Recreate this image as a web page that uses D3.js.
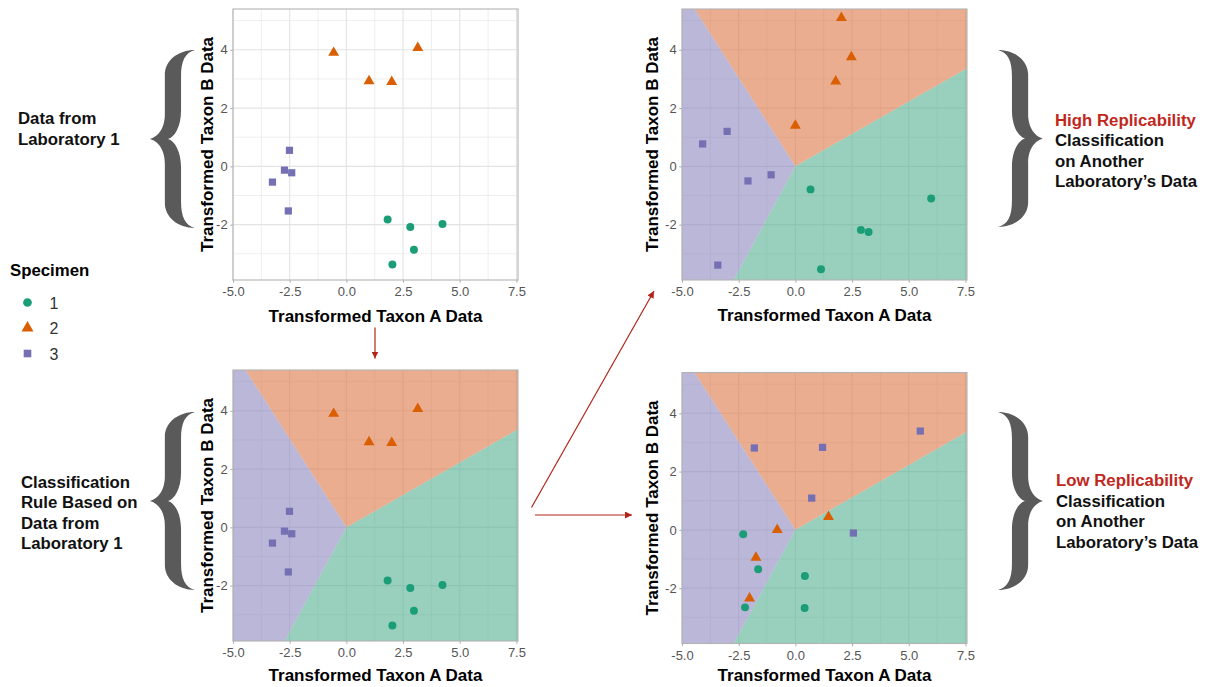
<!DOCTYPE html>
<html><head><meta charset="utf-8">
<script src="https://cdn.jsdelivr.net/npm/d3@7"></script>
<style>
html,body{margin:0;padding:0;background:#fff;}
svg{display:block;font-family:"Liberation Sans",Arial,Helvetica,sans-serif;}
</style></head><body>
<svg id="chart" width="1210" height="687"></svg>
<script>
// ---------- data ----------
const specimens = ["1", "2", "3"];
const specimenColors = ["#1B9E77", "#D95F02", "#7570B3"];
const regionColors = ["#53AF91", "#DC7644", "#8C87BE"];
const specimenShapes = ["circle", "triangle", "square"];

const xTickValues = [-5, -2.5, 0, 2.5, 5, 7.5];
const yTickValues = [-2, 0, 2, 4];
const xMinorTicks = [-3.75, -1.25, 1.25, 3.75, 6.25];
const yMinorTicks = [-3, -1, 1, 3, 5];
const xDomain = [-5, 7.57];
const yDomain = [-3.9, 5.4];

// classification rule regions (data units)
const regionSpecimen1 = [[0, 0], [-2.72, -3.9], [7.57, -3.9], [7.57, 3.37]];
const regionSpecimen2 = [[0, 0], [-4.45, 5.4], [7.57, 5.4], [7.57, 3.37]];
const regionSpecimen3 = [[0, 0], [-4.45, 5.4], [-5, 5.4], [-5, -3.9], [-2.72, -3.9]];

// Laboratory 1
const lab1Spec1X = [1.82, 2.82, 4.24, 2.98, 2.03];
const lab1Spec1Y = [-1.82, -2.08, -1.98, -2.86, -3.37];
const lab1Spec2X = [-0.56, 3.15, 1.0, 2.0];
const lab1Spec2Y = [3.9, 4.07, 2.93, 2.9];
const lab1Spec3X = [-2.51, -2.73, -2.41, -3.26, -2.56];
const lab1Spec3Y = [0.55, -0.13, -0.22, -0.54, -1.53];

// Another laboratory, high replicability
const highSpec1X = [0.67, 5.99, 2.89, 3.23, 1.13];
const highSpec1Y = [-0.79, -1.1, -2.18, -2.25, -3.53];
const highSpec2X = [2.03, 2.47, 1.78, 0.0];
const highSpec2Y = [5.1, 3.75, 2.92, 1.4];
const highSpec3X = [-4.09, -3.01, -2.09, -1.07, -3.42];
const highSpec3Y = [0.77, 1.2, -0.5, -0.29, -3.39];

// Another laboratory, low replicability
const lowSpec1X = [-2.3, -1.64, 0.42, -2.22, 0.41];
const lowSpec1Y = [-0.15, -1.35, -1.58, -2.66, -2.68];
const lowSpec2X = [-0.8, 1.46, -1.74, -2.02];
const lowSpec2Y = [0.0, 0.45, -0.95, -2.35];
const lowSpec3X = [-1.81, 1.2, 5.51, 0.72, 2.56];
const lowSpec3Y = [2.81, 2.83, 3.39, 1.09, -0.11];

const xTitle = "Transformed Taxon A Data";
const yTitle = "Transformed Taxon B Data";

// ---------- helpers ----------
function toPoints(xs, ys, s) { return xs.map((x, i) => ({x: x, y: ys[i], s: s})); }
const lab1 = [].concat(toPoints(lab1Spec1X, lab1Spec1Y, 0), toPoints(lab1Spec2X, lab1Spec2Y, 1), toPoints(lab1Spec3X, lab1Spec3Y, 2));
const high = [].concat(toPoints(highSpec1X, highSpec1Y, 0), toPoints(highSpec2X, highSpec2Y, 1), toPoints(highSpec3X, highSpec3Y, 2));
const low = [].concat(toPoints(lowSpec1X, lowSpec1Y, 0), toPoints(lowSpec2X, lowSpec2Y, 1), toPoints(lowSpec3X, lowSpec3Y, 2));
const regions = [regionSpecimen1, regionSpecimen2, regionSpecimen3];

const symbolTypes = {circle: d3.symbolCircle, triangle: d3.symbolTriangle, square: d3.symbolSquare};
const symbolSizes = {circle: 50, triangle: 52, square: 52};
const legendSizes = {circle: 60, triangle: 62, square: 58};

const svg = d3.select("#chart");
const GRID = "#E3E3E3", BORDER = "#B3B3B3", TICKTXT = "#555555";

function drawPanel(p) {
  const g = svg.append("g").attr("transform", `translate(${p.x},${p.y})`);
  const xs = d3.scaleLinear().domain(xDomain).range([0, p.w]);
  const ys = d3.scaleLinear().domain(yDomain).range([p.h, 0]);

  g.append("rect").attr("width", p.w).attr("height", p.h).attr("fill", "#fff");
  // minor grid
  g.selectAll(".mx").data(xMinorTicks).join("line")
    .attr("x1", d => xs(d)).attr("x2", d => xs(d)).attr("y1", 0).attr("y2", p.h)
    .attr("stroke", GRID).attr("stroke-width", 0.6);
  g.selectAll(".my").data(yMinorTicks).join("line")
    .attr("y1", d => ys(d)).attr("y2", d => ys(d)).attr("x1", 0).attr("x2", p.w)
    .attr("stroke", GRID).attr("stroke-width", 0.6);
  // major grid
  g.selectAll(".gx").data(xTickValues).join("line")
    .attr("x1", d => xs(d)).attr("x2", d => xs(d)).attr("y1", 0).attr("y2", p.h)
    .attr("stroke", GRID).attr("stroke-width", 1.1);
  g.selectAll(".gy").data(yTickValues).join("line")
    .attr("y1", d => ys(d)).attr("y2", d => ys(d)).attr("x1", 0).attr("x2", p.w)
    .attr("stroke", GRID).attr("stroke-width", 1.1);

  if (p.regions) {
    const line = d3.line().x(d => xs(d[0])).y(d => ys(d[1]));
    g.selectAll(".reg").data(regions).join("path")
      .attr("d", d => line(d) + "Z")
      .attr("fill", (d, i) => regionColors[i])
      .attr("fill-opacity", 0.6);
  }

  g.selectAll(".pt").data(p.data).join("path")
    .attr("transform", d => `translate(${xs(d.x)},${ys(d.y)})`)
    .attr("d", d => d3.symbol().type(symbolTypes[specimenShapes[d.s]]).size(symbolSizes[specimenShapes[d.s]])())
    .attr("fill", d => specimenColors[d.s]);

  g.append("rect").attr("width", p.w).attr("height", p.h)
    .attr("fill", "none").attr("stroke", BORDER).attr("stroke-width", 1.1);

  const ax = g.append("g").attr("transform", `translate(0,${p.h})`)
    .call(d3.axisBottom(xs).tickValues(xTickValues).tickFormat(d => d.toFixed(1)).tickSize(2.75).tickPadding(4.2));
  const ay = g.append("g")
    .call(d3.axisLeft(ys).tickValues(yTickValues).tickFormat(d => String(d)).tickSize(2.75).tickPadding(2.6));
  [ax, ay].forEach(a => {
    a.select(".domain").remove();
    a.selectAll("line").attr("stroke", BORDER).attr("stroke-width", 1.1);
    a.selectAll("text").attr("fill", TICKTXT).style("font-size", "13px")
      .style("font-family", '"Liberation Sans",Arial,sans-serif');
  });

  svg.append("text").attr("x", p.x + p.w / 2).attr("y", p.xTitleY)
    .attr("text-anchor", "middle").style("font-size", "17px").style("font-weight", "bold")
    .attr("fill", "#000").text(xTitle);
  svg.append("text")
    .attr("transform", `translate(${p.x - p.yTitleOff},${p.y + p.h / 2}) rotate(-90)`)
    .attr("text-anchor", "middle").style("font-size", "17px").style("font-weight", "bold")
    .attr("fill", "#000").text(yTitle);
}

const panels = [
  {x: 233, y: 9, w: 285, h: 271, data: lab1, regions: false, xTitleY: 321.5, yTitleOff: 20.5},
  {x: 233, y: 370, w: 285, h: 271, data: lab1, regions: true, xTitleY: 681, yTitleOff: 20.5},
  {x: 682, y: 9, w: 285, h: 271, data: high, regions: true, xTitleY: 321, yTitleOff: 24},
  {x: 682, y: 372.5, w: 285, h: 271, data: low, regions: true, xTitleY: 680.5, yTitleOff: 24}
];
panels.forEach(drawPanel);

// ---------- braces ----------
function bracePath(tipX, top, bottom, w, dir) {
  const h = bottom - top;
  const X = u => tipX + dir * u * w;
  const Y = v => top + v * h;
  const p = d3.path();
  p.moveTo(X(1), Y(0));
  p.bezierCurveTo(X(0.62), Y(0), X(0.33), Y(0.06), X(0.33), Y(0.14));
  p.lineTo(X(0.33), Y(0.36));
  p.bezierCurveTo(X(0.33), Y(0.45), X(0.15), Y(0.49), X(0), Y(0.5));
  p.bezierCurveTo(X(0.15), Y(0.51), X(0.33), Y(0.55), X(0.33), Y(0.64));
  p.lineTo(X(0.33), Y(0.86));
  p.bezierCurveTo(X(0.33), Y(0.94), X(0.62), Y(1), X(1), Y(1));
  p.bezierCurveTo(X(0.78), Y(0.985), X(0.69), Y(0.94), X(0.69), Y(0.85));
  p.lineTo(X(0.69), Y(0.66));
  p.bezierCurveTo(X(0.69), Y(0.57), X(0.55), Y(0.51), X(0.4), Y(0.5));
  p.bezierCurveTo(X(0.55), Y(0.49), X(0.69), Y(0.43), X(0.69), Y(0.34));
  p.lineTo(X(0.69), Y(0.15));
  p.bezierCurveTo(X(0.69), Y(0.06), X(0.78), Y(0.015), X(1), Y(0));
  p.closePath();
  return p.toString();
}
const braces = [
  {tip: 150, top: 50, bottom: 228, dir: 1},
  {tip: 150, top: 412, bottom: 590, dir: 1},
  {tip: 1043, top: 50, bottom: 227, dir: -1},
  {tip: 1043, top: 412, bottom: 590, dir: -1}
];
svg.selectAll(".brace").data(braces).join("path")
  .attr("d", d => bracePath(d.tip, d.top, d.bottom, 45, d.dir))
  .attr("fill", "#5A5A5A");

// ---------- annotation text ----------
function textBlock(x, y0, lines, colors) {
  const t = svg.append("text").attr("x", x).attr("y", y0)
    .style("font-size", "16.8px").style("font-weight", "bold");
  lines.forEach((l, i) => {
    t.append("tspan").attr("x", x).attr("y", y0 + i * 20.5).attr("fill", colors[i]).text(l);
  });
}
const BLK = "#111", RED = "#C0281E";
textBlock(18, 124, ["Data from", "Laboratory 1"], [BLK, BLK]);
textBlock(21, 487.5, ["Classification", "Rule Based on", "Data from", "Laboratory 1"], [BLK, BLK, BLK, BLK]);
textBlock(1055, 125.5, ["High Replicability", "Classification", "on Another", "Laboratory\u2019s Data"], [RED, BLK, BLK, BLK]);
textBlock(1056, 486, ["Low Replicability", "Classification", "on Another", "Laboratory\u2019s Data"], [RED, BLK, BLK, BLK]);

// ---------- legend ----------
svg.append("text").attr("x", 10).attr("y", 276).style("font-size", "16.8px").style("font-weight", "bold")
  .attr("fill", "#000").text("Specimen");
const legY = [302.5, 328, 353.5];
const leg = svg.selectAll(".leg").data(specimens).join("g")
  .attr("transform", (d, i) => `translate(27.5,${legY[i]})`);
leg.append("path")
  .attr("d", (d, i) => d3.symbol().type(symbolTypes[specimenShapes[i]]).size(legendSizes[specimenShapes[i]])())
  .attr("fill", (d, i) => specimenColors[i]);
leg.append("text").attr("x", 22).attr("y", 6).style("font-size", "16px").attr("fill", "#333").text(d => d);

// ---------- arrows ----------
const ARROW = "#B22418";
svg.append("defs").append("marker").attr("id", "ah")
  .attr("viewBox", "0 0 10 10").attr("refX", 10).attr("refY", 5)
  .attr("markerWidth", 7).attr("markerHeight", 7).attr("markerUnits", "userSpaceOnUse")
  .attr("orient", "auto")
  .append("path").attr("d", "M0,0L10,5L0,10Z").attr("fill", ARROW);
const arrows = [
  [[375, 327.5], [375, 358.5]],
  [[531.5, 507.5], [654, 291]],
  [[535, 515], [632, 515]]
];
svg.selectAll(".arr").data(arrows).join("line")
  .attr("x1", d => d[0][0]).attr("y1", d => d[0][1]).attr("x2", d => d[1][0]).attr("y2", d => d[1][1])
  .attr("stroke", ARROW).attr("stroke-width", 1.2).attr("marker-end", "url(#ah)");
</script>
</body></html>
